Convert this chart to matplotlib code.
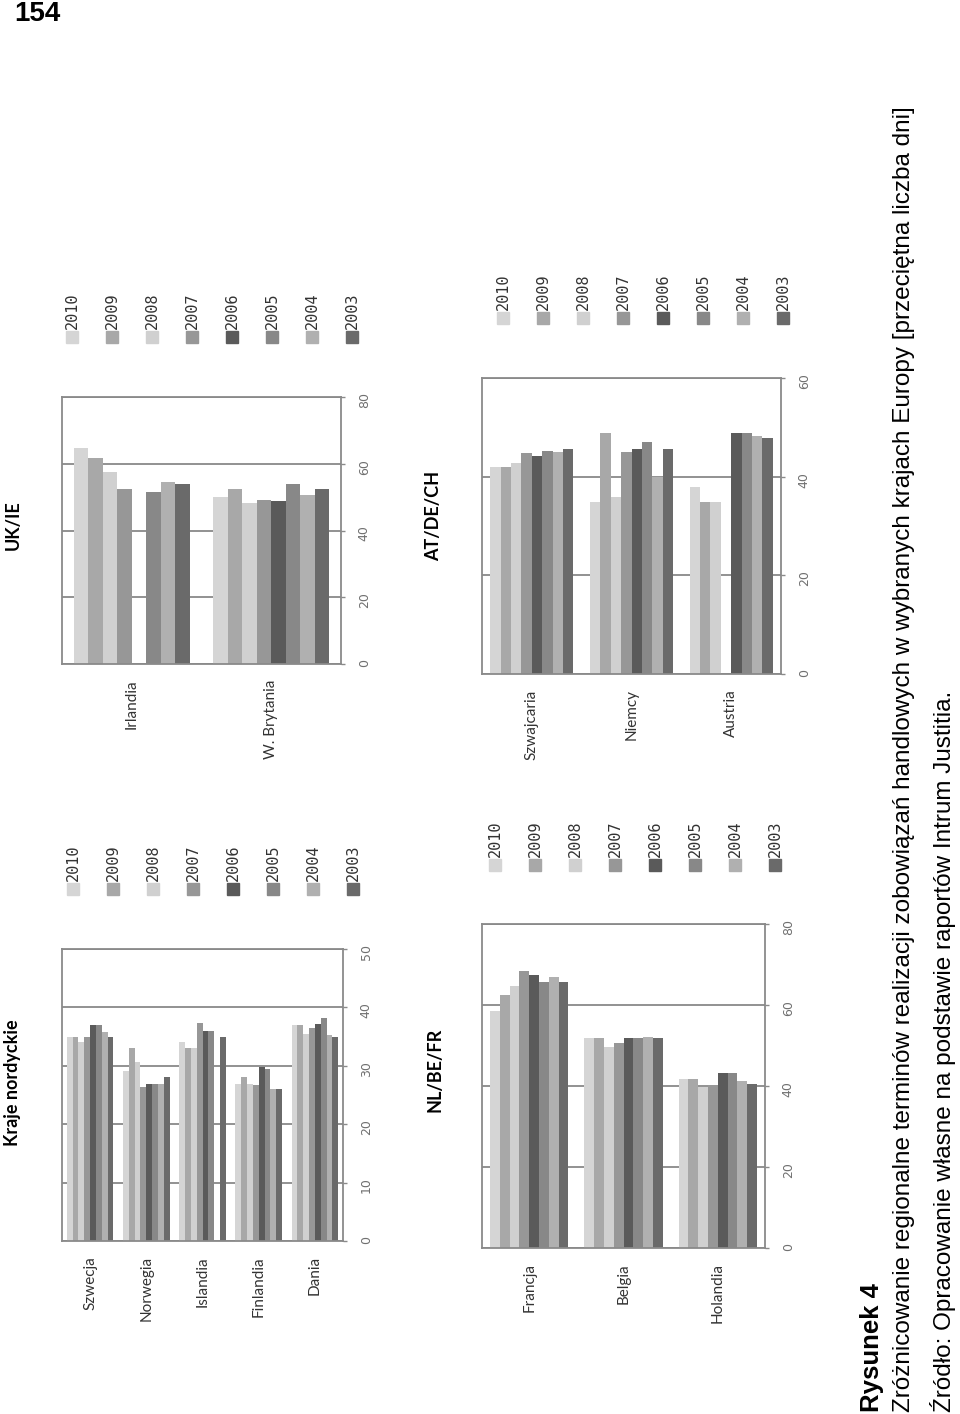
import numpy as np
import matplotlib
matplotlib.use('Agg')
import matplotlib.pyplot as plt
from matplotlib.patches import Rectangle

plt.rcParams['font.family'] = ['Liberation Sans', 'DejaVu Sans']

# dane (przecietna liczba dni), kolejnosc lat 2010..2003
years = ['2010', '2009', '2008', '2007', '2006', '2005', '2004', '2003']
colors = ['#d5d5d5', '#a8a8a8', '#d0d0d0', '#979797', '#5a5a5a', '#888888', '#b0b0b0', '#6a6a6a']

nord_cats = ['Szwecja', 'Norwegia', 'Islandia', 'Finlandia', 'Dania']
nord_vals = [
    [34.9, 34.9, 34.1, 34.9, 37.0, 37.0, 35.8, 34.9],
    [29.1, 33.0, 30.6, 26.3, 26.9, 26.9, 26.9, 28.0],
    [34.1, 33.0, 33.0, 37.3, 36.0, 36.0, np.nan, 34.9],
    [26.9, 28.0, 26.9, 26.7, 29.8, 29.5, 26.0, 26.0],
    [37.0, 37.0, 35.5, 36.5, 37.2, 38.2, 35.3, 34.9],
]

ukie_cats = ['Irlandia', 'W. Brytania']
ukie_vals = [
    [64.8, 61.7, 57.5, 52.3, np.nan, 51.4, 54.4, 53.9],
    [49.9, 52.3, 48.3, 49.2, 48.7, 53.9, 50.5, 52.3],
]

nlbefr_cats = ['Francja', 'Belgia', 'Holandia']
nlbefr_vals = [
    [58.6, 62.5, 64.7, 68.3, 67.3, 65.8, 67.0, 65.6],
    [51.8, 51.8, 49.6, 50.7, 51.8, 51.8, 52.0, 51.8],
    [41.7, 41.7, 39.8, 40.3, 43.1, 43.1, 41.3, 40.6],
]

atdech_cats = ['Szwajcaria', 'Niemcy', 'Austria']
atdech_vals = [
    [42.0, 42.0, 42.8, 44.7, 44.1, 45.3, 44.9, 45.7],
    [34.9, 48.8, 35.8, 44.9, 45.7, 47.0, 40.0, 45.7],
    [37.9, 34.9, 34.9, np.nan, 48.8, 48.8, 48.2, 47.9],
]

W, H = 960, 1414
fig = plt.figure(figsize=(W / 100, H / 100), dpi=100)


def box(x0, y0, x1, y1):
    return [x0 / W, 1 - y1 / H, (x1 - x0) / W, (y1 - y0) / H]


def panel(rect, cats, vals, vmax, step, title, title_xy, leg_x, leg_y, lab_pad):
    ax = fig.add_axes(box(*rect))
    vals = np.array(vals, dtype=float)
    n = len(cats)
    grp = 0.83
    bw = grp / len(years)
    x = np.arange(n)
    for i, yr in enumerate(years):
        ax.bar(x - grp / 2 + bw * (i + 0.5), vals[:, i], width=bw,
               color=colors[i], linewidth=0, zorder=2)
    ax.set_xlim(-0.5, n - 0.5)
    ax.set_ylim(0, vmax)
    ax.set_yticks(np.arange(0, vmax + 1, step))
    ax.yaxis.tick_right()
    ax.yaxis.grid(True, color='#7f7f7f', lw=1.2, zorder=1)
    ax.set_xticks(x)
    ax.set_xticklabels(cats, rotation=90, fontfamily='Lato', fontsize=11, color='#333333')
    ax.tick_params(axis='x', length=0, pad=lab_pad)
    ax.tick_params(axis='y', labelrotation=90, length=3, width=1, color='#8a8a8a',
                   labelsize=9, labelcolor='#707070', pad=9)
    for lbl in ax.get_yticklabels():
        lbl.set_fontfamily('DejaVu Sans')
    for s in ax.spines.values():
        s.set_color('#8a8a8a')
        s.set_linewidth(1.3)
    # tytul
    fig.text(title_xy[0] / W, 1 - title_xy[1] / H, title, rotation=90,
             ha='center', va='center', fontfamily='Lato', fontweight='bold', fontsize=13)
    # legenda
    for i, yr in enumerate(years):
        cx = leg_x + 40 * i
        fig.patches.append(Rectangle(((cx - 6) / W, 1 - (leg_y + 6) / H), 12 / W, 12 / H,
                                     transform=fig.transFigure, color=colors[i]))
        fig.text(cx / W, 1 - (leg_y - 8) / H, yr, rotation=90, ha='center', va='bottom',
                 fontfamily='DejaVu Sans Mono', fontsize=11, color='#333333')
    return ax


panel((62, 949, 343, 1241), nord_cats, nord_vals, 50, 10, 'Kraje nordyckie',
      (13, 1083), 73, 889, 11)
panel((62, 397, 341, 664), ukie_cats, ukie_vals, 80, 20, 'UK/IE',
      (13, 525), 72, 337, 11)
panel((482, 924, 765, 1248), nlbefr_cats, nlbefr_vals, 80, 20, 'NL/BE/FR',
      (435, 1070), 495, 865, 11)
panel((482, 378, 781, 674), atdech_cats, atdech_vals, 60, 20, 'AT/DE/CH',
      (434, 516), 503, 318, 11)

fig.text(14 / W, 1 - 21 / H, '154', ha='left', va='baseline', fontsize=20, fontweight='bold')

fig.text(872 / W, 1 - 1412 / H, 'Rysunek 4', rotation=90, ha='center', va='bottom',
         fontsize=18.5, fontweight='bold')
fig.text(904 / W, 1 - 1412 / H,
         'Zróżnicowanie regionalne terminów realizacji zobowiązań handlowych w wybranych '
         'krajach Europy [przeciętna liczba dni]',
         rotation=90, ha='center', va='bottom', fontsize=17.5)
fig.text(943 / W, 1 - 1412 / H,
         'Źródło: Opracowanie własne na podstawie raportów Intrum Justitia.',
         rotation=90, ha='center', va='bottom', fontsize=17.5)

fig.savefig('out.png', dpi=100)
